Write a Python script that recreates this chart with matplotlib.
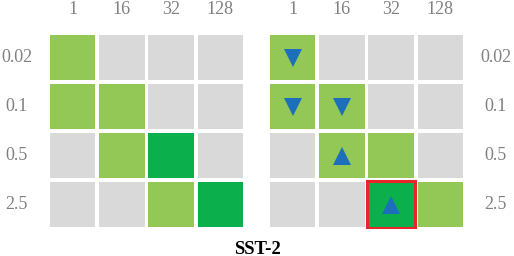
import numpy as np
import matplotlib
matplotlib.use('Agg')
import matplotlib.pyplot as plt
from matplotlib.patches import Rectangle

# column / row labels
cols = ['1', '16', '32', '128']
rows = ['0.02', '0.1', '0.5', '2.5']

# cell level: 0 = gray, 1 = light green, 2 = dark green
left_lvl = [[1, 0, 0, 0],
            [1, 1, 0, 0],
            [0, 1, 2, 0],
            [0, 0, 1, 2]]
right_lvl = [[1, 0, 0, 0],
             [1, 1, 0, 0],
             [0, 1, 1, 0],
             [0, 0, 2, 1]]

# markers on right grid: (row, col, direction)
right_marks = [(0, 0, 'v'), (1, 0, 'v'), (1, 1, 'v'), (2, 1, '^'), (3, 2, '^')]
# highlighted cell (row, col)
best_cell = (3, 2)

title = 'SST-2'

palette = ['#d9d9d9', '#93c756', '#0bb04c']
txt_gray = '#808080'
plt.rcParams['font.family'] = ['Liberation Serif', 'DejaVu Serif']

fig = plt.figure(figsize=(5.14, 2.56), dpi=100)
ax_l = fig.add_axes([48 / 514, 1 - 229 / 256, 197 / 514, 196 / 256])
ax_r = fig.add_axes([268 / 514, 1 - 229 / 256, 197 / 514, 196 / 256])

g = 0.04


def draw_grid(ax, lvl, side):
    lvl = np.array(lvl)
    for i in range(lvl.shape[0]):
        for j in range(lvl.shape[1]):
            ax.add_patch(Rectangle((j + g, i + g), 1 - 2 * g, 1 - 2 * g,
                                   facecolor=palette[lvl[i, j]], edgecolor='none'))
    ax.set_xlim(0, 4)
    ax.set_ylim(4, 0)
    ax.set_axis_off()
    for j, c in enumerate(cols):
        ax.text(j + 0.5, -0.48, c, ha='center', va='center', fontsize=13, color=txt_gray)
    for i, r in enumerate(rows):
        if side == 'left':
            ax.text(-0.64, i + 0.5, r, ha='center', va='center', fontsize=13, color=txt_gray)
        else:
            ax.text(4.62, i + 0.5, r, ha='center', va='center', fontsize=13, color=txt_gray)


draw_grid(ax_l, left_lvl, 'left')
draw_grid(ax_r, right_lvl, 'right')

for i, j, m in right_marks:
    ax_r.plot(j + 0.5, i + 0.5, marker=m, markersize=13, color='#1c6fba',
              markeredgewidth=0, clip_on=False)

bi, bj = best_cell
ax_r.add_patch(Rectangle((bj + g * 0.4, bi + g * 0.4), 1 - 0.8 * g, 1 - 0.8 * g,
                         facecolor='none', edgecolor='#e8262a', linewidth=2.2))

fig.text(0.5, 1 - 249 / 256, title, ha='center', va='center', fontsize=13.5,
         fontweight='bold', color='black')

fig.savefig('out.png', dpi=100)
